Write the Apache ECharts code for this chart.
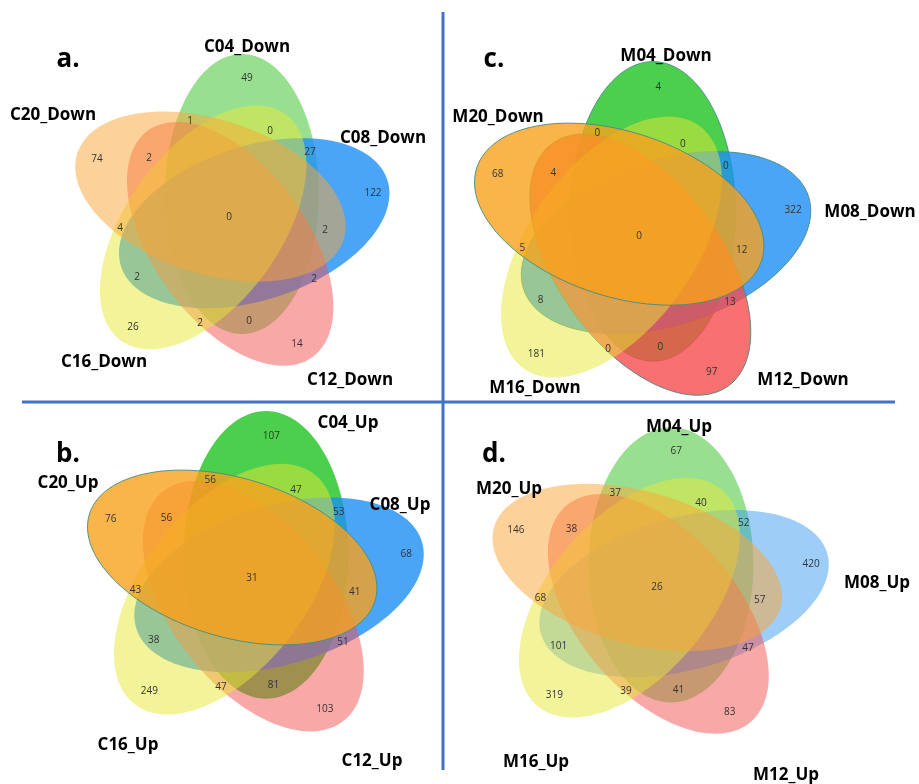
<!DOCTYPE html>
<html>
<head>
<meta charset="utf-8">
<script src="https://cdn.jsdelivr.net/npm/echarts@6/dist/echarts.min.js"></script>
<style>
html, body { margin: 0; padding: 0; background: #fff; }
#venn { width: 919px; height: 784px; }
</style>
</head>
<body>
<div id="venn"></div>
<script>
// set order in every panel: 04, 08, 12, 16, 20
const setsA = ['C04_Down', 'C08_Down', 'C12_Down', 'C16_Down', 'C20_Down']
const setsB = ['C04_Up', 'C08_Up', 'C12_Up', 'C16_Up', 'C20_Up']
const setsC = ['M04_Down', 'M08_Down', 'M12_Down', 'M16_Down', 'M20_Down']
const setsD = ['M04_Up', 'M08_Up', 'M12_Up', 'M16_Up', 'M20_Up']

// regions that carry a number (indexes into the set order above)
const regionSets = [[0], [0, 4], [0, 3], [0, 1], [4], [4, 2], [1], [0, 1, 2, 3, 4],
  [4, 3], [1, 4], [3, 1], [1, 2], [3], [3, 2], [2, 0], [2]]
const countsA = [49, 1, 0, 27, 74, 2, 122, 0, 4, 2, 2, 2, 26, 2, 0, 14]
const countsB = [107, 56, 47, 53, 76, 56, 68, 31, 43, 41, 38, 51, 249, 47, 81, 103]
const countsC = [4, 0, 0, 0, 68, 4, 322, 0, 5, 12, 8, 13, 181, 0, 0, 97]
const countsD = [67, 37, 40, 52, 146, 38, 420, 26, 68, 57, 101, 47, 319, 39, 41, 83]

// ---- layout (diagram units, y down) ----
const ELL = { dx: 14, dy: -23, rx: 77, ry: 140 }
const labelAnchors = [[19, -139], [-38, -96], [42, -86], [82, -65], [-131, -58], [-79, -59],
  [145, -24], [1, 0], [-108, 11], [97, 13], [-91, 60], [86, 62], [-95, 110], [-28, 106],
  [21, 104], [69, 127]]

// pastel = light fill, bold = strong fill
const PASTEL = ['#31c121', '#3d9bef', '#f35151', '#e7e735', '#fba535']
const BOLD = ['#1fc31f', '#1d8ef5', '#f64c4c', '#e7e735', '#f8a11d']

const panels = [
  { sets: setsA, counts: countsA, center: [228, 217], scale: 1, letter: 'a.', letterPos: [68, 60],
    bold: [0, 1, 0, 0, 0], outline: [0, 0, 0, 0, 0],
    titlePos: [[247, 47], [383, 138], [350, 380], [104, 362], [53, 115]] },
  { sets: setsB, counts: countsB, center: [251, 587], scale: 1.07, letter: 'b.', letterPos: [68, 455],
    bold: [1, 1, 0, 0, 1], outline: [0, 0, 0, 0, 1],
    titlePos: [[348, 423], [400, 505], [372, 761], [128, 745], [68, 483]] },
  { sets: setsC, counts: countsC, center: [638, 236], scale: 1.07, letter: 'c.', letterPos: [494, 60],
    bold: [1, 1, 1, 0, 1], outline: [1, 1, 1, 0, 1],
    titlePos: [[666, 56], [870, 212], [803, 380], [535, 388], [498, 117]] },
  { sets: setsD, counts: countsD, center: [656, 605], scale: 1.07, letter: 'd.', letterPos: [494, 455],
    bold: [0, 0, 0, 0, 0], outline: [0, 0, 0, 0, 0],
    titlePos: [[679, 427], [877, 583], [786, 775], [536, 762], [509, 489]] }
]

function rot(x, y, a) {
  return [x * Math.cos(a) - y * Math.sin(a), x * Math.sin(a) + y * Math.cos(a)]
}
function rgba(hex, a) {
  const n = parseInt(hex.slice(1), 16)
  return 'rgba(' + (n >> 16) + ',' + ((n >> 8) & 255) + ',' + (n & 255) + ',' + a + ')'
}

const grid = []
const xAxis = []
const yAxis = []
const series = []
const graphic = []

panels.forEach((p, k) => {
  const half = 200 * p.scale
  grid.push({ left: p.center[0] - half, top: p.center[1] - half, width: half * 2, height: half * 2 })
  xAxis.push({ type: 'value', gridIndex: k, min: -200, max: 200, show: false })
  yAxis.push({ type: 'value', gridIndex: k, min: -200, max: 200, inverse: true, show: false })

  // ellipses
  series.push({
    type: 'custom',
    xAxisIndex: k,
    yAxisIndex: k,
    data: p.sets.map((name, i) => ({ name: name, value: [i] })),
    renderItem(params, api) {
      const i = api.value(0)
      const ang = i * 72 * Math.PI / 180
      const c = rot(ELL.dx, ELL.dy, ang)
      const pts = []
      for (let s = 0; s < 120; s++) {
        const t = s / 120 * Math.PI * 2
        const q = rot(ELL.rx * Math.cos(t), ELL.ry * Math.sin(t), ang)
        pts.push(api.coord([c[0] + q[0], c[1] + q[1]]))
      }
      const fill = p.bold[i] ? rgba(BOLD[i], 0.8) : rgba(PASTEL[i], 0.5)
      return {
        type: 'polygon',
        shape: { points: pts },
        style: {
          fill: fill,
          stroke: p.outline[i] ? 'rgba(70,140,130,0.9)' : null,
          lineWidth: p.outline[i] ? 1 : 0
        }
      }
    }
  })

  // region counts
  series.push({
    type: 'custom',
    xAxisIndex: k,
    yAxisIndex: k,
    z: 5,
    data: p.counts.map((v, r) => ({ name: regionSets[r].join('&'), value: [r, v] })),
    renderItem(params, api) {
      const r = api.value(0)
      const pt = api.coord(labelAnchors[r])
      return {
        type: 'text',
        x: pt[0],
        y: pt[1],
        style: {
          text: String(api.value(1)),
          align: 'center',
          verticalAlign: 'middle',
          fontFamily: 'Open Sans',
          fontSize: 10,
          fill: '#333'
        }
      }
    }
  })

  // set names and panel letter
  p.sets.forEach((name, i) => {
    graphic.push({
      type: 'text', x: p.titlePos[i][0], y: p.titlePos[i][1], z: 10,
      style: { text: name, align: 'center', verticalAlign: 'middle', fontFamily: 'Open Sans',
        fontWeight: 'bold', fontSize: 17, fill: '#000' }
    })
  })
  graphic.push({
    type: 'text', x: p.letterPos[0], y: p.letterPos[1], z: 10,
    style: { text: p.letter, align: 'center', verticalAlign: 'middle', fontFamily: 'Open Sans',
      fontWeight: 'bold', fontSize: 26, fill: '#000' }
  })
})

// quadrant dividers
graphic.push({ type: 'line', z: 10, shape: { x1: 443, y1: 12, x2: 443, y2: 770 }, style: { stroke: '#4472C4', lineWidth: 3 } })
graphic.push({ type: 'line', z: 10, shape: { x1: 22, y1: 402, x2: 895, y2: 402 }, style: { stroke: '#4472C4', lineWidth: 3 } })

const chart = echarts.init(document.getElementById('venn'))
chart.setOption({
  animation: false,
  backgroundColor: '#fff',
  grid: grid,
  xAxis: xAxis,
  yAxis: yAxis,
  series: series,
  graphic: graphic
})
</script>
</body>
</html>
